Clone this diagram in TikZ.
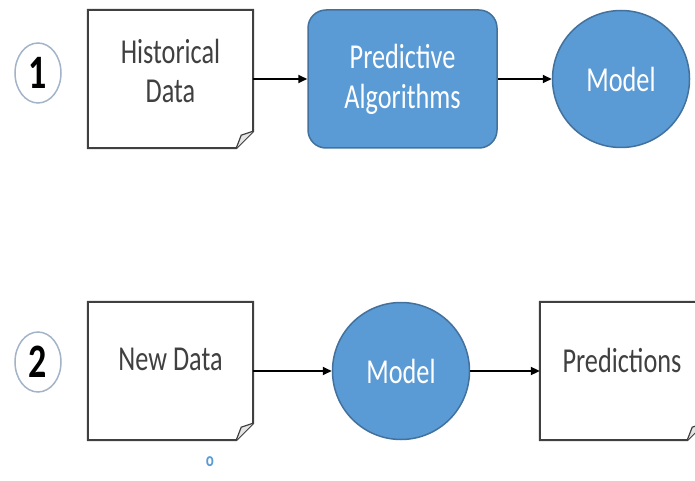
\documentclass[tikz,border=0pt]{standalone}
\usepackage{fontspec}
\setmainfont{Carlito}[FakeStretch=0.75]
\usetikzlibrary{arrows.meta,positioning,shapes.geometric}

\definecolor{flowblue}{HTML}{5B9BD5}
\definecolor{flowedge}{HTML}{41719C}
\definecolor{docgray}{HTML}{404040}
\definecolor{ringgray}{HTML}{A3B4C8}

\tikzset{
  docbox/.style={minimum width=165pt, minimum height=138pt, inner sep=0pt},
  doctext/.style={align=center, text=docgray, font=\fontsize{35}{39}\selectfont},
  docline/.style={draw=docgray, line width=2pt, line join=miter},
  algobox/.style={rounded corners=18pt, fill=flowblue, draw=flowedge, line width=1.5pt,
    minimum width=189pt, minimum height=138pt, align=center, text=white,
    font=\fontsize{35}{40}\selectfont},
  modelnode/.style={circle, fill=flowblue, draw=flowedge, line width=1.5pt,
    minimum size=137pt, inner sep=0pt, text=white, font=\fontsize{35}{40}\selectfont},
  stepnum/.style={ellipse, draw=ringgray, line width=1.5pt, minimum width=46pt,
    minimum height=60pt, inner sep=0pt, font=\bfseries\fontsize{48}{48}\selectfont},
  flow/.style={line width=2pt, -{Triangle[length=9pt,width=8pt]}},
}

\begin{document}
\begin{tikzpicture}[x=1pt,y=-1pt]
\useasboundingbox (0,0) rectangle (695,481);
\clip (0,0) rectangle (695,481);

% row 1: training
\node[stepnum] (step1) at (38,73) {1};
\node[docbox] (hist) at (170.5,79) {};
\node[doctext] (histtext) at ([yshift=8pt]hist.center) {Historical\\Data};
\node[algobox] (algo) at (402.5,79) {Predictive\\Algorithms};
\node[modelnode] (model1) at (621,79) {Model};

\draw[docline] (hist.north west) -- (hist.north east) -- ([yshift=17pt]hist.south east)
  -- ([xshift=-17pt]hist.south east) -- (hist.south west) -- cycle;
\draw[docline, line width=1.2pt, fill=gray!20] ([xshift=-17pt]hist.south east)
  -- ([xshift=-12pt,yshift=13pt]hist.south east) -- ([yshift=17pt]hist.south east);

\draw[flow] (hist) -- (algo);
\draw[flow] (algo) -- (model1);

% row 2: prediction
\node[stepnum] (step2) at (38,362) {2};
\node[docbox] (newdata) at (170.5,371) {};
\node[doctext] (newtext) at ([yshift=12pt]newdata.center) {New Data};
\node[modelnode] (model2) at (401,371) {Model};
\node[docbox, minimum width=164pt] (pred) at (622,371) {};
\node[doctext] (predtext) at ([yshift=11pt]pred.center) {Predictions};

\draw[docline] (newdata.north west) -- (newdata.north east) -- ([yshift=17pt]newdata.south east)
  -- ([xshift=-17pt]newdata.south east) -- (newdata.south west) -- cycle;
\draw[docline, line width=1.2pt, fill=gray!20] ([xshift=-17pt]newdata.south east)
  -- ([xshift=-12pt,yshift=13pt]newdata.south east) -- ([yshift=17pt]newdata.south east);
\draw[docline] (pred.north west) -- (pred.north east) -- ([yshift=17pt]pred.south east)
  -- ([xshift=-17pt]pred.south east) -- (pred.south west) -- cycle;
\draw[docline, line width=1.2pt, fill=gray!20] ([xshift=-17pt]pred.south east)
  -- ([xshift=-12pt,yshift=13pt]pred.south east) -- ([yshift=17pt]pred.south east);

\draw[flow] (newdata) -- (model2);
\draw[flow] (model2) -- (pred);

\node[text=flowblue, font=\bfseries\fontsize{20}{20}\selectfont] (mark) at (210,462) {o};
\end{tikzpicture}
\end{document}
